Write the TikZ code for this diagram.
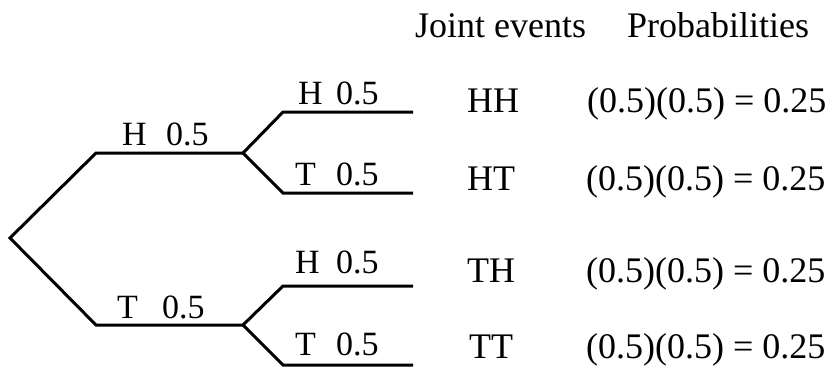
\documentclass[tikz,border=0pt]{standalone}
\usepackage{fontspec}
\setmainfont{Liberation Serif}
\begin{document}
\begin{tikzpicture}[x=1pt,y=-1pt,
  branch/.style={line width=3pt,line join=miter,line cap=butt},
  txt/.style={inner sep=0pt,anchor=base west,font=\fontsize{36}{40}\selectfont},
  side/.style={inner sep=0pt,anchor=base west,font=\fontsize{34}{38}\selectfont},
  prob/.style={inner sep=0pt,anchor=base west,font=\fontsize{34}{38}\selectfont}]
\useasboundingbox (0,0) rectangle (835,373);

% tree points
\coordinate (root) at (10,238);
\coordinate (h1s) at (96,153);  \coordinate (h1e) at (243,153);
\coordinate (t1s) at (96,325);  \coordinate (t1e) at (243,325);
\coordinate (hhs) at (283,112); \coordinate (hhe) at (413,112);
\coordinate (hts) at (283,193); \coordinate (hte) at (413,193);
\coordinate (ths) at (283,286); \coordinate (the) at (413,286);
\coordinate (tts) at (283,365); \coordinate (tte) at (413,365);

% branches
\draw[branch] (h1e) -- (h1s) -- (root) -- (t1s) -- (t1e);
\draw[branch] (hhe) -- (hhs) -- (h1e) -- (hts) -- (hte);
\draw[branch] (the) -- (ths) -- (t1e) -- (tts) -- (tte);

% branch labels
\node[side] (l1) at (122,145) {H};  \node[prob] (p1) at (166,145) {0.5};
\node[side] (l2) at (117,318) {T};  \node[prob] (p2) at (162,318) {0.5};
\node[side] (l3) at (298,104) {H};  \node[prob] (p3) at (336,104) {0.5};
\node[side] (l4) at (295,185) {T};  \node[prob] (p4) at (336,185) {0.5};
\node[side] (l5) at (295,273) {H};  \node[prob] (p5) at (336,273) {0.5};
\node[side] (l6) at (295,355) {T};  \node[prob] (p6) at (336,355) {0.5};

% column headings
\node[txt] (hdj) at (415,37) {Joint events};
\node[txt] (hdp) at (627,37) {Probabilities};

% joint events
\node[txt] (e1) at (467,112) {HH};
\node[txt] (e2) at (467,190) {HT};
\node[txt] (e3) at (467,282) {TH};
\node[txt] (e4) at (469,358) {TT};

% probabilities
\node[txt] (r1) at (587,112) {(0.5)(0.5) = 0.25};
\node[txt] (r2) at (586,190) {(0.5)(0.5) = 0.25};
\node[txt] (r3) at (586,282) {(0.5)(0.5) = 0.25};
\node[txt] (r4) at (586,358) {(0.5)(0.5) = 0.25};
\end{tikzpicture}
\end{document}
